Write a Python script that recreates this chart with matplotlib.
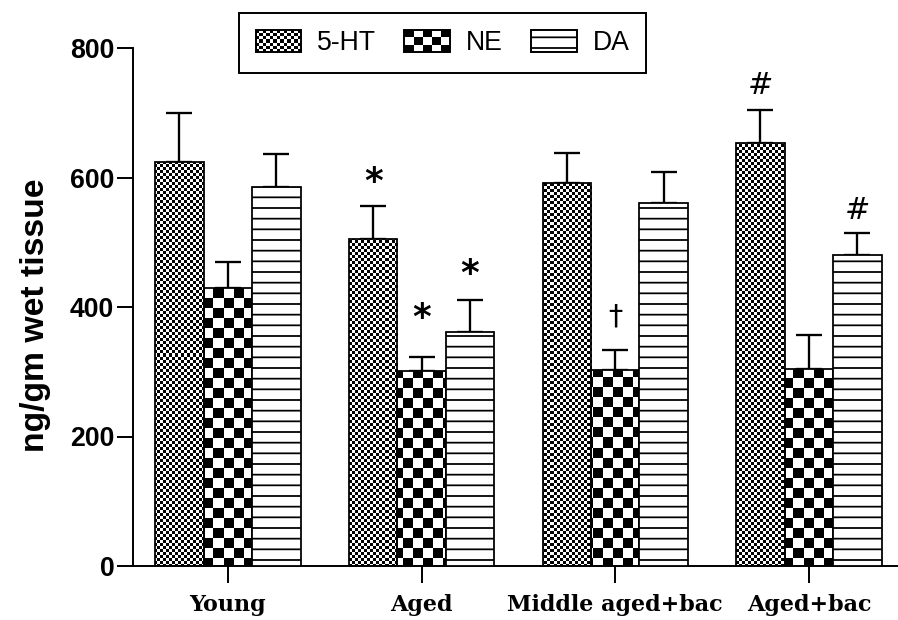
import numpy as np
import matplotlib
matplotlib.use("Agg")
import matplotlib.pyplot as plt
from matplotlib.patches import Rectangle
from matplotlib.legend_handler import HandlerBase

# values
groups = ["Young", "Aged", "Middle aged+bac", "Aged+bac"]
series = ["5-HT", "NE", "DA"]
ht_mean = [624, 505, 591, 653]
ht_err = [76, 51, 47, 51]
ne_mean = [429, 301, 303, 304]
ne_err = [41, 22, 31, 53]
da_mean = [585, 361, 561, 480]
da_err = [51, 50, 47, 34]
yticks = [0, 200, 400, 600, 800]

# significance marks: (series, group index, symbol, offset above cap in px)
marks = [("5-HT", 1, "*", 24), ("NE", 1, "*", 39), ("DA", 1, "*", 26),
         ("NE", 2, "\u2020", 33), ("5-HT", 3, "#", 25), ("DA", 3, "#", 23)]

DPI = 64
PT = 72 / DPI  # points per pixel
plt.rcParams["hatch.linewidth"] = 2.0
DA_HATCH = "-"

fig = plt.figure(figsize=(898 / DPI, 620 / DPI), dpi=DPI)
ax = fig.add_axes([133 / 898, 54 / 620, 765 / 898, 518 / 620])

x = np.arange(len(groups))
w = 0.25
xlim = (-0.49, 3.46)

means = {"5-HT": ht_mean, "NE": ne_mean, "DA": da_mean}
errs = {"5-HT": ht_err, "NE": ne_err, "DA": da_err}
offs = {"5-HT": -w, "NE": 0.0, "DA": w}

# texture images, one cell per screen pixel over the whole axes
hgt, wid = 518, 765
rr, cc = np.mgrid[0:hgt, 0:wid]
dots = ((rr // 3 + cc // 3) % 2).astype(float)
checker = ((rr // 10 + cc // 10) % 2).astype(float)


def textured(bars, tex):
    for b in bars:
        im = ax.imshow(tex, extent=(xlim[0], xlim[1], 0, 800), cmap="gray",
                       vmin=0, vmax=1, interpolation="nearest", aspect="auto",
                       zorder=2)
        im.set_clip_path(b)


# 5-HT: fine dotted texture
ht_bars = ax.bar(x + offs["5-HT"], ht_mean, w, facecolor="none",
                 edgecolor="black", linewidth=2.0, zorder=3)
textured(ht_bars, dots)

# NE: checkerboard
ne_bars = ax.bar(x + offs["NE"], ne_mean, w, facecolor="none", edgecolor="black",
                 linewidth=2.0, zorder=3)
textured(ne_bars, checker)

# DA: horizontal lines
ax.bar(x + offs["DA"], da_mean, w, facecolor="white", edgecolor="black",
       hatch=DA_HATCH, linewidth=2.0, zorder=3)

for s in series:
    ax.errorbar(x + offs[s], means[s], yerr=[np.zeros(len(groups)), errs[s]],
                fmt="none", ecolor="black", elinewidth=2.6, capsize=15,
                capthick=2.6, zorder=1)

for s, gi, sym, off in marks:
    top = means[s][gi] + errs[s][gi]
    if sym == "*":
        kw = dict(fontsize=40, fontweight="bold", family="DejaVu Sans")
    elif sym == "#":
        kw = dict(fontsize=34, style="italic", family="DejaVu Sans")
    else:
        kw = dict(fontsize=32, family="DejaVu Sans")
    ax.annotate(sym, xy=(gi + offs[s], top), xytext=(0, off * PT),
                textcoords="offset points", ha="center", va="center", **kw)

ax.set_xlim(*xlim)
ax.set_ylim(0, 800)
ax.set_yticks(yticks)
ax.set_xticks(x)
ax.set_xticklabels(groups, family="DejaVu Serif", fontweight="bold", fontsize=25)
ax.set_yticklabels([str(v) for v in yticks], family="Liberation Sans",
                   fontweight="bold", fontsize=30)
ax.set_ylabel("ng/gm wet tissue", family="Liberation Sans", fontweight="bold",
              fontsize=38)
ax.yaxis.set_label_coords(-0.107, 0.485)
ax.tick_params(axis="y", length=18, width=2.2, pad=3)
ax.tick_params(axis="x", length=19, width=2.2, pad=13)
for side in ["top", "right"]:
    ax.spines[side].set_visible(False)
for side in ["left", "bottom"]:
    ax.spines[side].set_linewidth(2.2)


class PatternHandler(HandlerBase):
    def __init__(self, kind):
        super().__init__()
        self.kind = kind

    def create_artists(self, legend, orig_handle, xdescent, ydescent, width,
                       height, fontsize, trans):
        x0, y0 = -xdescent, -ydescent
        arts = []
        if self.kind in ("5-HT", "NE"):
            arts.append(Rectangle((x0, y0), width, height, fc="black", lw=0,
                                  transform=trans))
            nc, nr = (5, 3) if self.kind == "NE" else (13, 7)
            cw, ch = width / nc, height / nr
            for i in range(nr):
                for j in range(nc):
                    if (i + j) % 2:
                        arts.append(Rectangle((x0 + j * cw, y0 + i * ch), cw, ch,
                                              fc="white", lw=0, transform=trans))
        else:
            arts.append(Rectangle((x0, y0), width, height, fc="white", ec="black",
                                  hatch=DA_HATCH, lw=0, transform=trans))
        arts.append(Rectangle((x0, y0), width, height, fc="none", ec="black",
                              lw=2.2, transform=trans))
        return arts


handles = [Rectangle((0, 0), 1, 1) for _ in series]
leg = fig.legend(handles, series, loc="upper left",
                 bbox_to_anchor=(239 / 898, 1 - 13 / 620), borderaxespad=0,
                 ncol=3, fancybox=False, framealpha=1, edgecolor="black",
                 handler_map={h: PatternHandler(s) for h, s in zip(handles, series)},
                 prop={"family": "Liberation Sans", "size": 30},
                 handlelength=1.72, handleheight=0.94, handletextpad=0.6,
                 columnspacing=1.05, borderpad=0.62)
leg.get_frame().set_linewidth(2.2)

fig.savefig("out.png", dpi=DPI)
